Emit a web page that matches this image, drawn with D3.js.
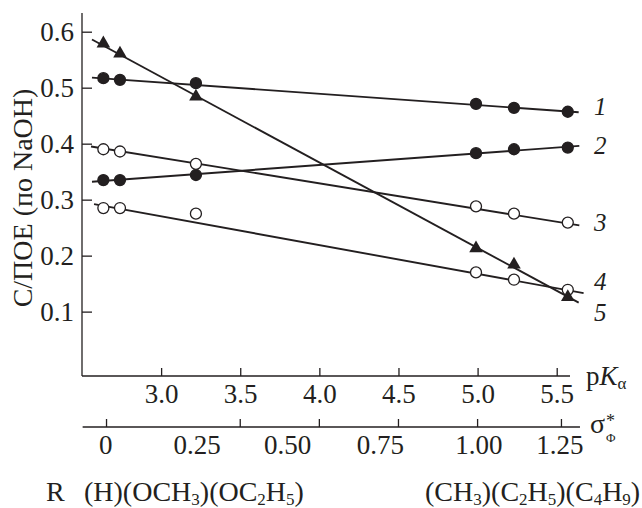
<!DOCTYPE html>
<html><head><meta charset="utf-8">
<script src="https://cdn.jsdelivr.net/npm/d3@7"></script>
<style>
body{margin:0;background:#fff;}
svg{display:block;}
text{font-family:"Liberation Serif","Times New Roman",serif;fill:#231f20;}
</style></head>
<body><svg id="c" width="642" height="508"></svg>
<script>
// ---- data ----
const pKa = [2.635, 2.74, 3.22, 4.99, 5.23, 5.57];           // x positions of R groups (pKα)
const s1 = [0.517, 0.514, 0.508, 0.471, 0.464, 0.457];
const s2 = [0.335, 0.335, 0.344, 0.383, 0.390, 0.393];
const s3 = [0.390, 0.386, 0.364, 0.288, 0.275, 0.259];
const s4 = [0.285, 0.285, 0.275, 0.170, 0.157, 0.139];
const s5 = [0.579, 0.561, 0.484, 0.213, 0.184, 0.126];
// fitted lines: [x0, y0, x1, y1] in data units
const fit1 = [2.563, 0.518, 5.639, 0.456];
const fit2 = [2.563, 0.332, 5.643, 0.396];
const fit3 = [2.557, 0.395, 5.643, 0.254];
const fit4 = [2.576, 0.292, 5.670, 0.133];
const fit5 = [2.563, 0.586, 5.639, 0.116];
const seriesNames = ["1","2","3","4","5"];
const yTicks = [0.1, 0.2, 0.3, 0.4, 0.5, 0.6];
const pKaTicks = [3.0, 3.5, 4.0, 4.5, 5.0, 5.5];
const sigmaLabels = ["0","0.25","0.50","0.75","1.00","1.25"];
const sigmaLabelAt = [2.65, 3.227, 3.80, 4.385, 5.008, 5.52];   // label positions on the pKα scale
const sigmaTickAt = [2.655, 3.5, 4.0, 4.5, 5.0, 5.53];          // tick positions on the pKα scale

const svg = d3.select("#c");
const x = d3.scaleLinear().domain([2.5, 5.584]).range([82, 570]);
const y = d3.scaleLinear().domain([-0.015, 0.6334]).range([376, 13]);
const ink = "#231f20";
const FS = 27;

// y axis
const yAx = svg.append("g").attr("transform","translate(82,0)")
  .call(d3.axisRight(y).tickValues(yTicks).tickSize(10).tickFormat(d3.format(".1f")));
yAx.select(".domain").attr("d", `M0,${y.range()[0]}V${y.range()[1]}`);
yAx.selectAll("line").attr("stroke", ink).attr("stroke-width",1.3);
yAx.select(".domain").attr("stroke", ink).attr("stroke-width",1.3);
yAx.selectAll("text").attr("x",-8).attr("dy","0.34em").attr("text-anchor","end").attr("font-size",FS).attr("fill",ink);

// pKa axis
const xAx = svg.append("g").attr("transform","translate(0,376)")
  .call(d3.axisTop(x).tickValues(pKaTicks).tickSize(8).tickFormat(d3.format(".1f")));
xAx.select(".domain").attr("d", `M${x.range()[0]},0H${x.range()[1]}`).attr("stroke",ink).attr("stroke-width",1.3);
xAx.selectAll("line").attr("stroke", ink).attr("stroke-width",1.3);
xAx.selectAll("text").attr("y",27).attr("dy",0).attr("font-size",FS).attr("fill",ink);

// sigma axis
const sg = svg.append("g").attr("transform","translate(0,427)");
sg.append("line").attr("x1", x(2.504)).attr("x2", x(5.647)).attr("stroke",ink).attr("stroke-width",1.3);
sg.selectAll(".st").data(sigmaTickAt).join("line")
  .attr("x1", d=>x(d)).attr("x2", d=>x(d)).attr("y1",0).attr("y2",-8).attr("stroke",ink).attr("stroke-width",1.3);
sg.selectAll(".sl").data(sigmaLabels).join("text")
  .attr("x",(d,i)=>x(sigmaLabelAt[i])).attr("y",27).attr("text-anchor","middle").attr("font-size",FS).text(d=>d);

// axis titles
const pk = svg.append("text").attr("x",586).attr("y",385).attr("font-size",27);
pk.append("tspan").text("p");
pk.append("tspan").attr("font-style","italic").text("K");
pk.append("tspan").attr("font-size",17).attr("dy",4).text("α");

svg.append("text").attr("x",590).attr("y",433).attr("font-size",28).text("σ");
svg.append("text").attr("x",606).attr("y",427).attr("font-size",18).text("*");
svg.append("text").attr("x",606).attr("y",442).attr("font-size",13).text("Φ");

svg.append("text").attr("transform","translate(32,198) rotate(-90)")
  .attr("text-anchor","middle").attr("font-size",28).text("С/ПОЕ (по NaOH)");

// lines
const fits = [fit1, fit2, fit3, fit4, fit5];
svg.selectAll(".fit").data(fits).join("line")
  .attr("x1",d=>x(d[0])).attr("y1",d=>y(d[1])).attr("x2",d=>x(d[2])).attr("y2",d=>y(d[3]))
  .attr("stroke",ink).attr("stroke-width",1.9);

// markers
const series = [
  {v:s1, type:"fill"}, {v:s2, type:"fill"}, {v:s3, type:"open"}, {v:s4, type:"open"}, {v:s5, type:"tri"}
];
series.forEach(s=>{
  const g = svg.append("g");
  if (s.type === "tri") {
    g.selectAll("path").data(s.v).join("path")
      .attr("d", d3.symbol(d3.symbolTriangle, 80)())
      .attr("transform",(d,i)=>`translate(${x(pKa[i])},${y(d)})`)
      .attr("fill",ink);
  } else {
    g.selectAll("circle").data(s.v).join("circle")
      .attr("cx",(d,i)=>x(pKa[i])).attr("cy",d=>y(d)).attr("r",5.5)
      .attr("fill", s.type==="fill"? ink : "#fff").attr("stroke",ink).attr("stroke-width",1.3);
  }
});

// series labels
const labelAt = [0.466, 0.396, 0.258, 0.153, 0.097];
svg.selectAll(".sn").data(seriesNames).join("text")
  .attr("x",594).attr("y",(d,i)=>y(labelAt[i])+8).attr("font-size",25).attr("font-style","italic").text(d=>d);

// bottom row
const BS = 28;
svg.append("text").attr("x",46).attr("y",501).attr("font-size",BS).text("R");
function chem(xp, parts){
  const t = svg.append("text").attr("x",xp).attr("y",501).attr("font-size",BS);
  let sub = false;
  parts.forEach(p=>{
    const isSub = !!p[1];
    const dy = isSub && !sub ? 4 : (!isSub && sub ? -4 : 0);
    t.append("tspan").attr("font-size", isSub ? 17 : BS).attr("dy", dy).text(p[0]);
    sub = isSub;
  });
}
chem(84, [["(H)(OCH"],["3",1],[")(OC"],["2",1],["H"],["5",1],[")"]]);
chem(425, [["(CH"],["3",1],[")(C"],["2",1],["H"],["5",1],[")(C"],["4",1],["H"],["9",1],[")"]]);
</script></body></html>
